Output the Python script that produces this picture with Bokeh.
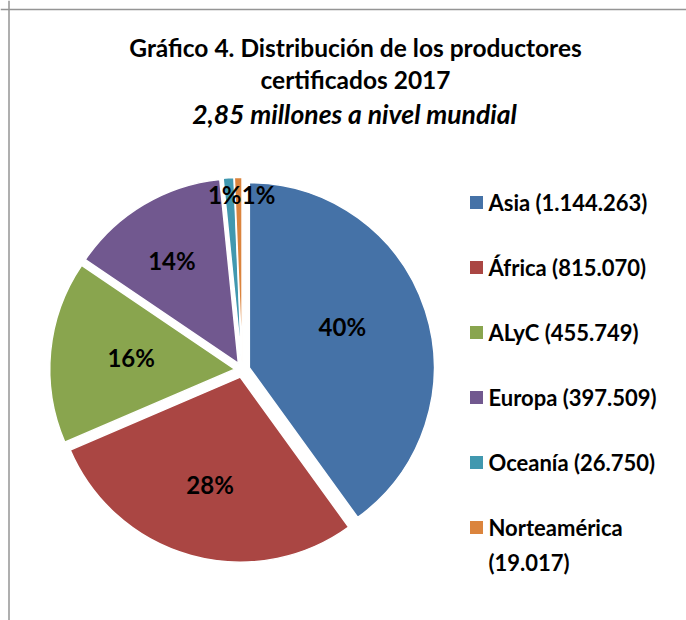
import math
from bokeh.plotting import figure
from bokeh.models import ColumnDataSource, Range1d, Span
from bokeh.core.properties import value
from bokeh.embed import file_html
from bokeh.resources import INLINE

# ---- data ----
regions = ["Asia", "África", "ALyC", "Europa", "Oceanía", "Norteamérica"]
producers = [1144263, 815070, 455749, 397509, 26750, 19017]
pct_labels = ["40%", "28%", "16%", "14%", "1%", "1%"]
legend_labels = ["Asia (1.144.263)", "África (815.070)", "ALyC (455.749)",
                 "Europa (397.509)", "Oceanía (26.750)", "Norteamérica\n(19.017)"]
colors = ["#4572A7", "#AA4643", "#89A54E", "#71588F", "#4198AF", "#DB843D"]
title_lines = ["Gráfico 4. Distribución de los productores", "certificados 2017"]
subtitle = "2,85 millones a nivel mundial"

# ---- layout (pixel-like data space) ----
W, H = 686, 620
FONT = "Lato"
cx, cy, R, explode = 241.7, 250.6, 185, 7.5
label_r = [103, 113, 104, 120, 168, 168]
label_dx = [-5, 0, 0, -5, -5, 20]
label_dy = [9, 2, 2, 0, 0, 0]

total = sum(producers)
starts, ends, mids = [], [], []
acc = 0.0
for v in producers:
    a0 = math.pi / 2 - 2 * math.pi * acc / total
    acc += v
    a1 = math.pi / 2 - 2 * math.pi * acc / total
    starts.append(a0)
    ends.append(a1)
    mids.append((a0 + a1) / 2)

wx = [cx + explode * math.cos(m) for m in mids]
wy = [cy + explode * math.sin(m) for m in mids]
lx = [x + r * math.cos(m) + dx for x, r, m, dx in zip(wx, label_r, mids, label_dx)]
ly = [y + r * math.sin(m) + dy for y, r, m, dy in zip(wy, label_r, mids, label_dy)]

src = ColumnDataSource(dict(x=wx, y=wy, start=starts, end=ends, color=colors,
                            lx=lx, ly=ly, lab=pct_labels))

p = figure(width=W, height=H, output_backend="svg", toolbar_location=None,
           x_range=Range1d(0, W), y_range=Range1d(0, H),
           x_axis_location=None, y_axis_location=None, min_border=0,
           tools="")
p.grid.visible = False
p.outline_line_color = None
p.background_fill_color = "white"

p.wedge(x="x", y="y", radius=R, start_angle="start", end_angle="end",
        direction="clock", fill_color="color", line_color="white", line_width=1.5,
        source=src)
p.text(x="lx", y="ly", text="lab", source=src, text_font=value(FONT),
       text_font_style="bold", text_font_size="24px", text_align="center",
       text_baseline="middle", text_color="black")

# title
p.text(x=[355, 355], y=[573, 541], text=title_lines, text_font=value(FONT),
       text_font_style="bold", text_font_size="24.5px", text_align="center",
       text_baseline="middle", text_color="black")
p.text(x=[354], y=[507], text=[subtitle], text_font=value(FONT),
       text_font_style="bold italic", text_font_size="26.5px", text_align="center",
       text_baseline="middle", text_color="black")

# legend
ly0, lstep = 418, 65
leg_y = [ly0 - lstep * i for i in range(len(regions))]
p.rect(x=[476] * len(regions), y=leg_y, width=13, height=13,
       width_units="screen", height_units="screen", fill_color=colors, line_color=None)
p.text(x=[488] * len(regions), y=leg_y, text=[l.split("\n")[0] for l in legend_labels],
       text_font=value(FONT), text_font_style="bold", text_font_size="22px",
       text_align="left", text_baseline="middle", text_color="black")
extra = [(y - 35, l.split("\n")[1]) for y, l in zip(leg_y, legend_labels) if "\n" in l]
p.text(x=[488] * len(extra), y=[e[0] for e in extra], text=[e[1] for e in extra],
       text_font=value(FONT), text_font_style="bold", text_font_size="22px",
       text_align="left", text_baseline="middle", text_color="black")

# chart border (left and top)
p.add_layout(Span(location=8.5, dimension="height", line_color="#959595", line_width=1.5))
p.add_layout(Span(location=H - 9, dimension="width", line_color="#959595", line_width=1.5))

open("out.html", "w").write(file_html(p, INLINE))
